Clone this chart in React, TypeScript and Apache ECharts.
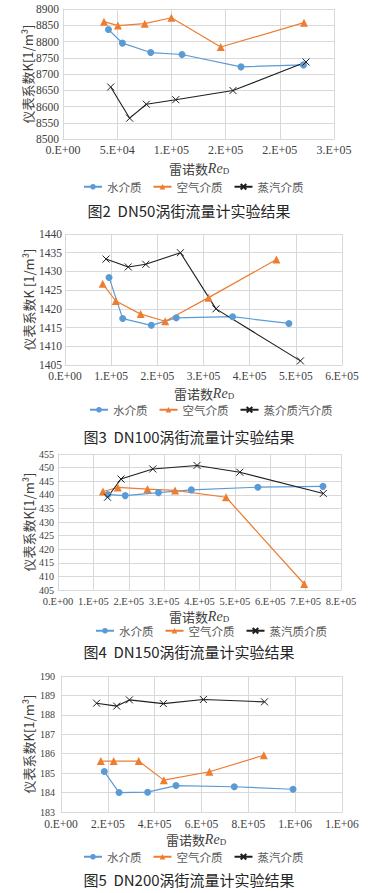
import React, { useEffect, useRef } from 'react';
import * as echarts from 'echarts';

// DN50
const dn50WaterRe = [41900, 54800, 80900, 109800, 164200, 221800];
const dn50WaterK = [8837, 8795, 8766, 8760, 8722, 8728];
const dn50AirRe = [37800, 50700, 75400, 100000, 145500, 222300];
const dn50AirK = [8861, 8849, 8855, 8873, 8783, 8858];
const dn50SteamRe = [44000, 61500, 76900, 104000, 156800, 224200];
const dn50SteamK = [8660, 8564, 8607, 8621, 8649, 8737];
// DN100
const dn100WaterRe = [95400, 125000, 187000, 241000, 363000, 485000];
const dn100WaterK = [1428.4, 1417.4, 1415.6, 1417.6, 1417.9, 1416.1];
const dn100AirRe = [81700, 110000, 164000, 217000, 311000, 458000];
const dn100AirK = [1426.7, 1422.1, 1418.6, 1416.7, 1423.0, 1433.2];
const dn100SteamRe = [88900, 137000, 175000, 250000, 327000, 510000];
const dn100SteamK = [1433.3, 1431.2, 1431.9, 1435.0, 1420.0, 1406.1];
// DN150
const dn150WaterRe = [141000, 190000, 284000, 377000, 565000, 749000];
const dn150WaterK = [440.1, 439.7, 440.8, 441.8, 442.8, 443.1];
const dn150AirRe = [127000, 169000, 253000, 331000, 475000, 696000];
const dn150AirK = [441.2, 442.7, 442.1, 441.6, 439.1, 407.2];
const dn150SteamRe = [140000, 178000, 268000, 393000, 514000, 750000];
const dn150SteamK = [439.1, 445.8, 449.5, 450.8, 448.3, 440.5];
// DN200
const dn200WaterRe = [185000, 248000, 370000, 491000, 740000, 991000];
const dn200WaterK = [185.08, 184.0, 184.02, 184.36, 184.3, 184.17];
const dn200AirRe = [170000, 225000, 332000, 439000, 634000, 866000];
const dn200AirK = [185.62, 185.62, 185.62, 184.64, 185.07, 185.92];
const dn200SteamRe = [152000, 238000, 292000, 437000, 608000, 869000];
const dn200SteamK = [188.6, 188.45, 188.77, 188.58, 188.79, 188.67];

const legendWater = '水介质';
const legendAir = '空气介质';
const steamNames = ['蒸汽介质', '蒸介质汽介质', '蒸汽质介质', '蒸汽介质'];
const captions = [
  '图2  DN50涡街流量计实验结果',
  '图3  DN100涡街流量计实验结果',
  '图4  DN150涡街流量计实验结果',
  '图5  DN200涡街流量计实验结果',
];
const yTitles = ['仪表系数K[1/m³]', '仪表系数K [1/m³]', '仪表系数K[1/m³]', '仪表系数K[1/m³]'];

const xRanges = [
  { min: 0, max: 250000, interval: 50000 },
  { min: 0, max: 600000, interval: 100000 },
  { min: 0, max: 800000, interval: 100000 },
  { min: 0, max: 1200000, interval: 200000 },
];
const yRanges = [
  { min: 8500, max: 8900, interval: 50 },
  { min: 1405, max: 1440, interval: 5 },
  { min: 405, max: 455, interval: 5 },
  { min: 183, max: 190, interval: 1 },
];

const panels = [
  { w: [dn50WaterRe, dn50WaterK], a: [dn50AirRe, dn50AirK], s: [dn50SteamRe, dn50SteamK] },
  { w: [dn100WaterRe, dn100WaterK], a: [dn100AirRe, dn100AirK], s: [dn100SteamRe, dn100SteamK] },
  { w: [dn150WaterRe, dn150WaterK], a: [dn150AirRe, dn150AirK], s: [dn150SteamRe, dn150SteamK] },
  { w: [dn200WaterRe, dn200WaterK], a: [dn200AirRe, dn200AirK], s: [dn200SteamRe, dn200SteamK] },
];

// layout (pixels)
const grids = [
  { left: 63, top: 9, width: 271, height: 130 },
  { left: 65, top: 234, width: 277, height: 131 },
  { left: 58, top: 454, width: 283, height: 136 },
  { left: 61, top: 676, width: 281, height: 136 },
];
const xFont = [12, 11.5, 10.5, 11.5];
const yFont = [11.5, 11.5, 10, 10];
const xMargin = [5, 5, 6, 6];
const yMargin = [4, 3, 4, 6];
const xTitleY = [168, 393, 616, 839];
const xTitleX = [199, 204, 199, 196];
const yTitleX = [27, 28, 28, 28];
const legendLeft = [83, 89, 95, 83];
const legendTop = [181, 404, 625, 851];
const captionY = [210, 436, 651, 879];

const fmtE = (v: number) => {
  const s = v.toExponential(0);
  const [m, e] = s.split('e');
  const n = parseInt(e, 10);
  return `${m}.E${n < 0 ? '-' : '+'}${String(Math.abs(n)).padStart(2, '0')}`;
};

const zip = (xs: number[], ys: number[]) => xs.map((x, i) => [x, ys[i]]);

const BLUE = '#5B9BD5';
const ORANGE = '#ED7D31';
const BLACK = '#1f1f1f';
const GRID = '#D9D9D9';
const TICK = '#404040';
const CROSS = 'path://M0,0L10,10M10,0L0,10';

export default function App() {
  const ref = useRef<HTMLDivElement>(null);
  useEffect(() => {
    document.body.style.margin = '0';
    if (!ref.current) return;
    const chart = echarts.init(ref.current, undefined, { renderer: 'svg' });

    const xAxis: any[] = [];
    const yAxis: any[] = [];
    const series: any[] = [];
    const legend: any[] = [];
    const graphic: any[] = [];

    panels.forEach((p, i) => {
      xAxis.push({
        type: 'value',
        gridIndex: i,
        ...xRanges[i],
        axisLine: { show: true, lineStyle: { color: GRID } },
        axisTick: { show: false },
        splitLine: { show: true, lineStyle: { color: GRID, width: 1 } },
        axisLabel: {
          formatter: fmtE,
          fontFamily: 'Liberation Serif',
          fontSize: xFont[i],
          color: TICK,
          margin: xMargin[i],
          showMinLabel: true,
          showMaxLabel: true,
        },
      });
      yAxis.push({
        type: 'value',
        gridIndex: i,
        ...yRanges[i],
        axisLine: { show: true, lineStyle: { color: GRID } },
        axisTick: { show: false },
        splitLine: { show: true, lineStyle: { color: GRID, width: 1 } },
        axisLabel: {
          formatter: (v: number) => String(v),
          fontFamily: 'Liberation Serif',
          fontSize: yFont[i],
          color: TICK,
          margin: yMargin[i],
        },
      });
      series.push({
        type: 'line',
        name: legendWater,
        xAxisIndex: i,
        yAxisIndex: i,
        data: zip(p.w[0], p.w[1]),
        symbol: 'circle',
        symbolSize: 7,
        lineStyle: { color: BLUE, width: 1.2 },
        itemStyle: { color: BLUE },
      });
      series.push({
        type: 'line',
        name: legendAir,
        xAxisIndex: i,
        yAxisIndex: i,
        data: zip(p.a[0], p.a[1]),
        symbol: 'triangle',
        symbolSize: 8,
        lineStyle: { color: ORANGE, width: 1.2 },
        itemStyle: { color: ORANGE },
      });
      series.push({
        type: 'line',
        name: steamNames[i],
        xAxisIndex: i,
        yAxisIndex: i,
        data: zip(p.s[0], p.s[1]),
        symbol: CROSS,
        symbolSize: 7,
        lineStyle: { color: BLACK, width: 1.1 },
        itemStyle: { color: 'none', borderColor: BLACK, borderWidth: 1 },
      });
      legend.push({
        left: legendLeft[i],
        top: legendTop[i],
        padding: 0,
        data: [legendWater, legendAir, steamNames[i]],
        itemWidth: 18,
        itemHeight: 7,
        itemGap: 11,
        textStyle: { fontFamily: 'Noto Sans CJK SC', fontSize: 11.5, color: '#595959' },
        selectedMode: false,
      });
      const g = grids[i];
      graphic.push({
        type: 'text',
        x: yTitleX[i],
        y: g.top + g.height / 2,
        rotation: Math.PI / 2,
        style: {
          text: yTitles[i],
          align: 'center',
          verticalAlign: 'middle',
          fontFamily: 'Noto Sans CJK SC',
          fontSize: 13,
          fill: '#404040',
        },
      });
      graphic.push({
        type: 'text',
        x: xTitleX[i],
        y: xTitleY[i],
        style: {
          text: '{a|雷诺数}{b|Re}{c|D}',
          align: 'center',
          verticalAlign: 'middle',
          rich: {
            a: { fontFamily: 'Noto Sans CJK SC', fontSize: 13, lineHeight: 14, fill: '#404040' },
            b: { fontFamily: 'Liberation Serif', fontStyle: 'italic', fontSize: 14, lineHeight: 14, fill: '#404040' },
            c: { fontFamily: 'Liberation Serif', fontSize: 9, lineHeight: 5, verticalAlign: 'bottom', fill: '#404040' },
          },
        },
      });
      graphic.push({
        type: 'text',
        x: 189,
        y: captionY[i],
        style: {
          text: captions[i],
          align: 'center',
          verticalAlign: 'middle',
          fontFamily: 'Noto Sans CJK SC',
          fontSize: 15,
          fill: '#262626',
        },
      });
    });

    chart.setOption({
      animation: false,
      backgroundColor: '#ffffff',
      grid: grids.map((g) => ({ ...g, containLabel: false })),
      xAxis,
      yAxis,
      series,
      legend,
      graphic,
    });
    return () => chart.dispose();
  }, []);
  return <div ref={ref} style={{ width: 377, height: 893 }} />;
}
